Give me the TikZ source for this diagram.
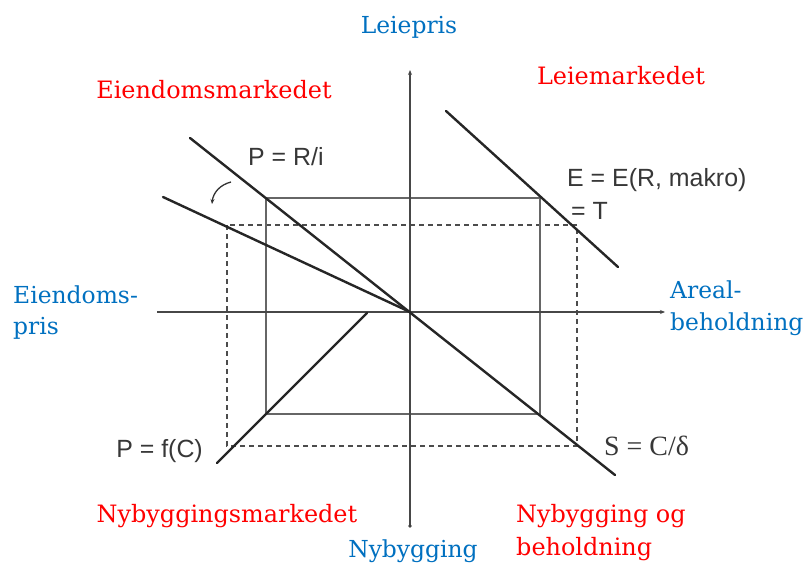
\documentclass[tikz,border=0pt]{standalone}
\usepackage{fontspec}
\setmainfont{DejaVu Serif}
\newfontfamily\arialf{Liberation Sans}
\newfontfamily\timesf{Liberation Serif}
\usetikzlibrary{arrows.meta}
\definecolor{lblue}{RGB}{0,112,192}
\definecolor{lred}{RGB}{255,0,0}
\definecolor{ink}{RGB}{55,55,55}
\begin{document}
\begin{tikzpicture}[x=1bp,y=-1bp,
  axis/.style={line width=2.6bp, draw=black!72},
  curveline/.style={line width=2.4bp, draw=black!85, line cap=round},
  frame/.style={line width=2.8bp, draw=black!60},
  guide/.style={line width=1.5bp, draw=black!70, dash pattern=on 5bp off 4bp},
  redlbl/.style={text=lred, font=\fontsize{24}{28}\selectfont, inner sep=0},
  bluelbl/.style={text=lblue, font=\fontsize{23.5}{28}\selectfont, inner sep=0},
  eq/.style={text=ink, font=\arialf\fontsize{25}{28}\selectfont, inner sep=0}]
\useasboundingbox (0,0) rectangle (807,570);

% coordinates
\coordinate (O) at (410,312);
\coordinate (vtop) at (410,70);
\coordinate (vbot) at (410,526);
\coordinate (hl) at (157,312);
\coordinate (hr) at (665,312);
\coordinate (r1) at (266,198);
\coordinate (r2) at (540,414);
\coordinate (d1) at (227,225);
\coordinate (d2) at (577,446);
\coordinate (pra) at (190,138);
\coordinate (prb) at (615,475);
\coordinate (fla) at (163,197);
\coordinate (lea) at (446,111);
\coordinate (leb) at (618,267);
\coordinate (nya) at (217,463);
\coordinate (nyb) at (367,313);
\coordinate (arra) at (231,182);
\coordinate (arrb) at (212,204);

% rectangles
\draw[guide] (d1) rectangle (d2);
\draw[frame] (r1) rectangle (r2);

% axes
\draw[axis, -{Stealth[length=5bp,width=4bp]}] (vbot) -- (vtop);
\draw[axis, -{Stealth[length=5bp,width=4bp]}] (hl) -- (hr);
\fill[black!75] (vbot) circle (1.8bp);

% curves
\draw[curveline] (pra) -- (prb);
\draw[curveline] (fla) -- (O);
\draw[curveline] (lea) -- (leb);
\draw[curveline] (nya) -- (nyb);
\draw[line width=1.3bp, draw=black!80, -{Stealth[length=5bp,width=4bp]}] (arra) to[bend right=35] (arrb);

% labels
\node[bluelbl, anchor=base] (leiepris) at (409,34) {Leiepris};
\node[redlbl, anchor=base] (eiendm) at (214,99) {Eiendomsmarkedet};
\node[redlbl, anchor=base] (leiem) at (621,85) {Leiemarkedet};
\node[bluelbl, anchor=base west] (epris1) at (13,303) {Eiendoms-};
\node[bluelbl, anchor=base west] (epris2) at (13,334) {pris};
\node[bluelbl, anchor=base west] (areal1) at (670,298) {Areal-};
\node[bluelbl, anchor=base west] (areal2) at (670,330) {beholdning};
\node[redlbl, anchor=base] (nybm) at (227,522) {Nybyggingsmarkedet};
\node[bluelbl, anchor=base] (nyb) at (413,557) {Nybygging};
\node[redlbl, anchor=base west] (nyog1) at (516,522) {Nybygging og};
\node[redlbl, anchor=base west] (nyog2) at (516,555) {beholdning};

\node[eq, anchor=base west] (pri) at (248,166) {P = R/i};
\node[eq, anchor=base west] (eer) at (567,187) {E = E(R, makro)};
\node[eq, anchor=base west] (et) at (571,220) {= T};
\node[eq, anchor=base east] (pfc) at (203,457) {P = f(C)};
\node[text=ink, font=\timesf\fontsize{28}{30}\selectfont, inner sep=0, anchor=base west] (scd) at (604,455) {S = C/δ};
\end{tikzpicture}
\end{document}
